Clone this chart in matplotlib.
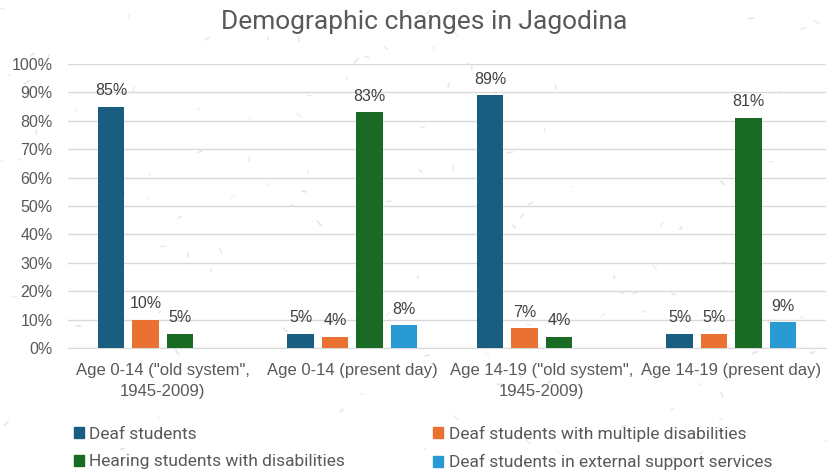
import numpy as np
import matplotlib
matplotlib.use("Agg")
import matplotlib.pyplot as plt
from matplotlib.patches import Patch

categories = ['Age 0-14 ("old system",\n1945-2009)',
              'Age 0-14 (present day)',
              'Age 14-19 ("old system",\n1945-2009)',
              'Age 14-19 (present day)']
series_names = ["Deaf students",
                "Hearing students with disabilities",
                "Deaf students with multiple disabilities",
                "Deaf students in external support services"]
deaf = [85, 5, 89, 5]
multiple = [10, 4, 7, 5]
hearing = [5, 83, 4, 81]
external = [np.nan, 8, np.nan, 9]

colors = {"deaf": "#195E80", "multiple": "#E97132",
          "hearing": "#196B24", "external": "#2A9BD2"}

TEXT = "#595959"
narrow = ["Roboto", "DejaVu Sans"]
regular = ["Liberation Sans", "DejaVu Sans"]

fig = plt.figure(figsize=(8.28, 4.73), dpi=100)
fig.patch.set_facecolor("white")

# faint paper-like flecks in the background
rng = np.random.default_rng(7)
n = 130
fx = rng.uniform(0, 1, n)
fy = rng.uniform(0, 1, n)
ang = rng.uniform(0, np.pi, n)
ln = rng.uniform(0.002, 0.007, n)
for x, y, a, l in zip(fx, fy, ang, ln):
    fig.add_artist(plt.Line2D([x, x + l * np.cos(a)], [y, y + l * np.sin(a) * 1.75],
                              transform=fig.transFigure, color="#D0D0D0",
                              lw=rng.uniform(0.5, 1.4), alpha=0.5, zorder=0))

ax = fig.add_axes([68 / 828, 1 - 348 / 473, 758 / 828, 284 / 473])
ax.set_facecolor("none")

x = np.arange(len(categories))
step = 0.182
width = 0.142
series = [(deaf, "deaf", -1.5), (multiple, "multiple", -0.5),
          (hearing, "hearing", 0.5), (external, "external", 1.5)]
for vals, key, off in series:
    vals = np.array(vals, dtype=float)
    ax.bar(x + off * step, vals, width, color=colors[key], zorder=3)
    for xi, v in zip(x + off * step, vals):
        if not np.isnan(v):
            ax.text(xi, v + 3, f"{v:.0f}%", ha="center", va="bottom",
                    fontsize=11.5, color="#404040", family=regular, zorder=4)

ax.set_xlim(-0.5, 3.5)
ax.set_ylim(0, 100)
ax.set_yticks(np.arange(0, 101, 10))
ax.set_yticklabels([f"{t}%" for t in range(0, 101, 10)], family=regular,
                   fontsize=11.5, color=TEXT)
ax.set_xticks(x)
ax.set_xticklabels(categories, family=regular, fontsize=12, color=TEXT,
                   linespacing=1.5)
ax.tick_params(axis="y", length=0, pad=11)
ax.tick_params(axis="x", length=0, pad=11)
ax.grid(axis="y", color="#D9D9D9", lw=1, zorder=0)
for s in ["top", "right", "left"]:
    ax.spines[s].set_visible(False)
ax.spines["bottom"].set_color("#D9D9D9")

fig.text(424 / 828, 1 - 22 / 473, "Demographic changes in Jagodina", ha="center",
         va="center", fontsize=19, color=TEXT, family=narrow)

leg_handles = [Patch(color=colors["deaf"]), Patch(color=colors["hearing"]),
               Patch(color=colors["multiple"]), Patch(color=colors["external"])]
leg = fig.legend(leg_handles, series_names, ncol=2, loc="lower left",
                 bbox_to_anchor=(72 / 828, 1 / 473), frameon=False,
                 borderpad=0.1, borderaxespad=0,
                 prop={"family": narrow, "size": 12.5}, labelcolor=TEXT,
                 handlelength=0.6, handleheight=0.6, handletextpad=0.3,
                 columnspacing=5.05, labelspacing=0.7)

fig.savefig("out.png", dpi=100)
